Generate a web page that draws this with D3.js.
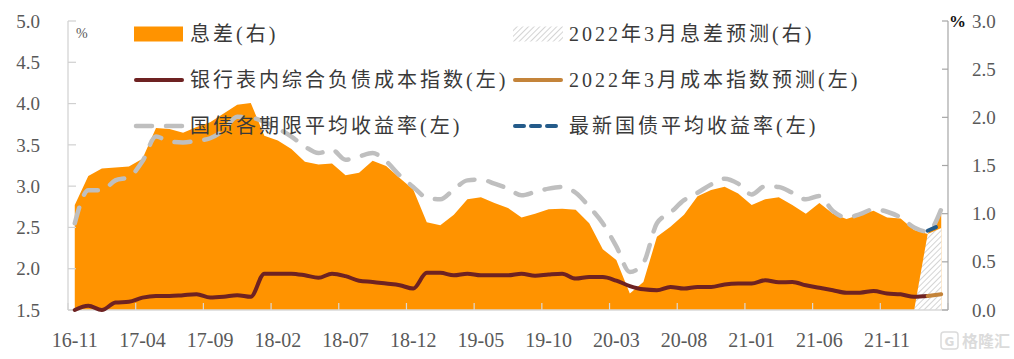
<!DOCTYPE html>
<html><head><meta charset="utf-8">
<script src="https://cdn.jsdelivr.net/npm/d3@7"></script>
<style>html,body{margin:0;padding:0;background:#fff;}svg{display:block;}</style>
</head><body>
<svg id="c" width="1014" height="359"></svg>
<script>
const categories = ["16-11","16-12","17-01","17-02","17-03","17-04","17-05","17-06","17-07","17-08","17-09","17-10","17-11","17-12",
"18-01","18-02","18-03","18-04","18-05","18-06","18-07","18-08","18-09","18-10","18-11","18-12",
"19-01","19-02","19-03","19-04","19-05","19-06","19-07","19-08","19-09","19-10","19-11","19-12",
"20-01","20-02","20-03","20-04","20-05","20-06","20-07","20-08","20-09","20-10","20-11","20-12",
"21-01","21-02","21-03","21-04","21-05","21-06","21-07","21-08","21-09","21-10","21-11","21-12",
"22-01","22-02","22-03"];
const tickLabels = ["16-11","17-04","17-09","18-02","18-07","18-12","19-05","19-10","20-03","20-08","21-01","21-06","21-11"];
const leftTicks = [1.5,2.0,2.5,3.0,3.5,4.0,4.5,5.0];
const rightTicks = [0.0,0.5,1.0,1.5,2.0,2.5,3.0];

// 息差(右)
const spread = [1.09,1.39,1.47,1.48,1.49,1.57,1.89,1.88,1.84,1.90,1.95,2.04,2.13,2.15,
1.81,1.76,1.67,1.54,1.51,1.52,1.40,1.425,1.55,1.495,1.37,1.25,
0.91,0.88,0.99,1.15,1.17,1.11,1.06,0.96,1.00,1.045,1.05,1.04,
0.90,0.63,0.52,0.17,0.29,0.76,0.865,0.99,1.18,1.245,1.28,1.21,
1.09,1.15,1.17,1.09,1.00,1.11,1.00,0.945,0.99,1.03,0.96,0.95,
0.83,0.79,1.00];
// 2022年3月息差预测(右)
const spreadForecast = [null,null,null,null,null,null,null,null,null,null,null,null,null,null,
null,null,null,null,null,null,null,null,null,null,null,null,
null,null,null,null,null,null,null,null,null,null,null,null,
null,null,null,null,null,null,null,null,null,null,null,null,
null,null,null,null,null,null,null,null,null,null,null,null,
0,0.79,0.85];
// 银行表内综合负债成本指数(左)
const costIndex = [1.50,1.55,1.50,1.59,1.60,1.65,1.67,1.67,1.68,1.69,1.65,1.66,1.68,1.66,
1.94,1.94,1.94,1.92,1.89,1.94,1.91,1.855,1.84,1.82,1.80,1.76,
1.95,1.95,1.92,1.94,1.92,1.92,1.92,1.94,1.915,1.93,1.94,1.88,
1.90,1.90,1.855,1.79,1.75,1.74,1.78,1.76,1.78,1.78,1.81,1.82,
1.82,1.86,1.835,1.84,1.80,1.77,1.74,1.71,1.71,1.73,1.70,1.69,
1.66,1.67,null];
// 2022年3月成本指数预测(左)
const costForecast = [null,null,null,null,null,null,null,null,null,null,null,null,null,null,
null,null,null,null,null,null,null,null,null,null,null,null,
null,null,null,null,null,null,null,null,null,null,null,null,
null,null,null,null,null,null,null,null,null,null,null,null,
null,null,null,null,null,null,null,null,null,null,null,null,
null,1.67,1.69];
// 国债各期限平均收益率(左)
const bondYield = [2.55,2.95,2.95,3.07,3.11,3.30,3.60,3.54,3.53,3.55,3.58,3.68,3.84,3.83,
3.78,3.70,3.60,3.48,3.40,3.44,3.32,3.36,3.40,3.30,3.13,2.99,
2.86,2.84,2.96,3.07,3.08,3.03,2.97,2.89,2.93,2.97,2.99,2.92,
2.75,2.55,2.27,1.96,2.07,2.55,2.68,2.83,2.92,3.02,3.09,3.03,
2.90,3.00,2.99,2.92,2.84,2.88,2.70,2.62,2.66,2.72,2.69,2.62,
2.50,2.45,2.72];
// 最新国债平均收益率(左)
const latestYield = [null,null,null,null,null,null,null,null,null,null,null,null,null,null,
null,null,null,null,null,null,null,null,null,null,null,null,
null,null,null,null,null,null,null,null,null,null,null,null,
null,null,null,null,null,null,null,null,null,null,null,null,
null,null,null,null,null,null,null,null,null,null,null,null,
null,2.46,2.53];

const legendItems = [
  {label:"息差(右)", type:"area", col:0, row:0},
  {label:"2022年3月息差预测(右)", type:"hatch", col:1, row:0},
  {label:"银行表内综合负债成本指数(左)", type:"cost", col:0, row:1},
  {label:"2022年3月成本指数预测(左)", type:"costF", col:1, row:1},
  {label:"国债各期限平均收益率(左)", type:"yield", col:0, row:2},
  {label:"最新国债平均收益率(左)", type:"latest", col:1, row:2}
];

const C = {orange:"#FF9300", brown:"#6E2222", tan:"#C4843A", gray:"#BFBFBF", blue:"#245B8A", hatch:"#A0A0A0"};
const svg = d3.select("#c");
const L = 68, R = 948, T = 21, B = 310;

const x = d3.scaleBand().domain(categories).range([L, R]).padding(0);
const xc = c => x(c) + x.bandwidth()/2;
const yL = d3.scaleLinear().domain([1.5, 5.0]).range([B, T]);
const yR = d3.scaleLinear().domain([0, 3.0]).range([B, T]);

const defs = svg.append("defs");
const pat = defs.append("pattern").attr("id","hatch").attr("patternUnits","userSpaceOnUse")
  .attr("width",4).attr("height",4).attr("patternTransform","rotate(45)");
pat.append("rect").attr("width",4).attr("height",4).attr("fill","#fff");
pat.append("line").attr("x1",0).attr("y1",0).attr("x2",0).attr("y2",4).attr("stroke",C.hatch).attr("stroke-width",0.9);

const idx = d3.range(categories.length);

// spread area
const area = d3.area().defined(i => spread[i] != null)
  .x(i => xc(categories[i])).y0(yR(0)).y1(i => yR(spread[i]));
svg.append("path").attr("d", area(idx)).attr("fill", C.orange);

const hArea = d3.area().defined(i => spreadForecast[i] != null)
  .x(i => xc(categories[i])).y0(yR(0)).y1(i => yR(spreadForecast[i]));
svg.append("path").attr("d", hArea(idx)).attr("fill","url(#hatch)");

// axes
const gx = svg.append("g").attr("transform",`translate(0,${B})`);
gx.append("line").attr("x1",L).attr("x2",R).attr("stroke","#D9D9D9").attr("stroke-width",1.5);
const bw = x.bandwidth();
tickLabels.forEach(t => {
  const px = x(t);
  gx.append("line").attr("x1",px).attr("x2",px).attr("y1",0).attr("y2",-7).attr("stroke","#D9D9D9").attr("stroke-width",1.2);
  gx.append("text").attr("x",px + bw/2).attr("y",37).attr("text-anchor","middle")
    .attr("font-family","Liberation Serif, serif").attr("font-size",20).attr("fill","#595959").text(t);
});
gx.append("line").attr("x1",R).attr("x2",R).attr("y1",0).attr("y2",-7).attr("stroke","#D9D9D9").attr("stroke-width",1.2);

// left axis
const gl = svg.append("g");
gl.append("line").attr("x1",L).attr("x2",L).attr("y1",T).attr("y2",B).attr("stroke","#D0D0D0").attr("stroke-width",1.2);
leftTicks.forEach(v => {
  gl.append("line").attr("x1",L).attr("x2",L+8).attr("y1",yL(v)).attr("y2",yL(v)).attr("stroke","#D0D0D0").attr("stroke-width",1.2);
  gl.append("text").attr("x",40).attr("y",yL(v)).attr("dy","0.35em").attr("text-anchor","end")
    .attr("font-family","Liberation Serif, serif").attr("font-size",19).attr("fill","#595959").text(v.toFixed(1));
});
gl.append("text").attr("x",76).attr("y",38).attr("font-family","Liberation Serif, serif").attr("font-size",14).attr("fill","#595959").text("%");

// right axis
const gr = svg.append("g");
gr.append("line").attr("x1",R).attr("x2",R).attr("y1",T).attr("y2",B).attr("stroke","#A6A6A6").attr("stroke-width",1.2);
rightTicks.forEach(v => {
  gr.append("line").attr("x1",R-6).attr("x2",R).attr("y1",yR(v)).attr("y2",yR(v)).attr("stroke","#A6A6A6").attr("stroke-width",1.2);
  gr.append("text").attr("x",972).attr("y",yR(v)).attr("dy","0.35em").attr("text-anchor","start")
    .attr("font-family","Liberation Serif, serif").attr("font-size",19).attr("fill","#595959").text(v.toFixed(1));
});
gr.append("text").attr("x",949).attr("y",yR(3.0)).attr("dy","0.35em").attr("font-family","Liberation Serif, serif")
  .attr("font-weight","bold").attr("font-size",17).attr("fill","#111").text("%");

// lines
const mkLine = arr => d3.line().defined(i => arr[i] != null).curve(d3.curveMonotoneX)
  .x(i => xc(categories[i])).y(i => yL(arr[i]));
svg.append("path").attr("d", mkLine(costIndex)(idx)).attr("fill","none").attr("stroke",C.brown).attr("stroke-width",4).attr("stroke-linecap","round");
svg.append("path").attr("d", mkLine(costForecast)(idx)).attr("fill","none").attr("stroke",C.tan).attr("stroke-width",4).attr("stroke-linecap","round");
svg.append("path").attr("d", mkLine(bondYield)(idx)).attr("fill","none").attr("stroke",C.gray).attr("stroke-width",4.5)
  .attr("stroke-dasharray","16,14").attr("stroke-linecap","round");
svg.append("path").attr("d", mkLine(latestYield)(idx)).attr("fill","none").attr("stroke",C.blue).attr("stroke-width",4)
  .attr("stroke-dasharray","9,7").attr("stroke-linecap","round");

// legend
const colX = [134, 513], rowY = [34, 80, 126];
const lg = svg.append("g");
legendItems.forEach(it => {
  const x0 = colX[it.col], y0 = rowY[it.row];
  if (it.type === "area") lg.append("rect").attr("x",x0).attr("y",y0-7.5).attr("width",49).attr("height",15).attr("fill",C.orange);
  else if (it.type === "hatch") lg.append("rect").attr("x",x0).attr("y",y0-7.5).attr("width",50).attr("height",15).attr("fill","url(#hatch)");
  else {
    const st = {cost:[C.brown,4,null], costF:[C.tan,4,null], yield:[C.gray,4.5,"16,14"], latest:[C.blue,4,"9,7"]}[it.type];
    const ln = lg.append("line").attr("x1",x0+2).attr("x2",x0+48).attr("y1",y0).attr("y2",y0)
      .attr("stroke",st[0]).attr("stroke-width",st[1]).attr("stroke-linecap","round");
    if (st[2]) ln.attr("stroke-dasharray", st[2]);
  }
  lg.append("text").attr("x",x0+56).attr("y",y0).attr("dy","0.36em")
    .attr("font-family","Liberation Serif, 'Noto Sans CJK SC', serif").attr("font-size",20)
    .attr("letter-spacing",3).attr("fill","#3a3a3a").text(it.label);
});

// watermark
const wm = svg.append("g").attr("opacity",0.35);
wm.append("rect").attr("x",941).attr("y",332).attr("width",17).attr("height",17).attr("rx",3).attr("fill","none").attr("stroke","#999").attr("stroke-width",1.5);
wm.append("text").attr("x",949.5).attr("y",345.5).attr("text-anchor","middle").attr("font-family","DejaVu Sans").attr("font-weight","bold").attr("font-size",12).attr("fill","#999").text("G");
wm.append("text").attr("x",962).attr("y",347).attr("font-family","'Noto Sans CJK SC'").attr("font-weight","bold").attr("font-size",16).attr("fill","#999").text("格隆汇");
</script>
</body></html>
